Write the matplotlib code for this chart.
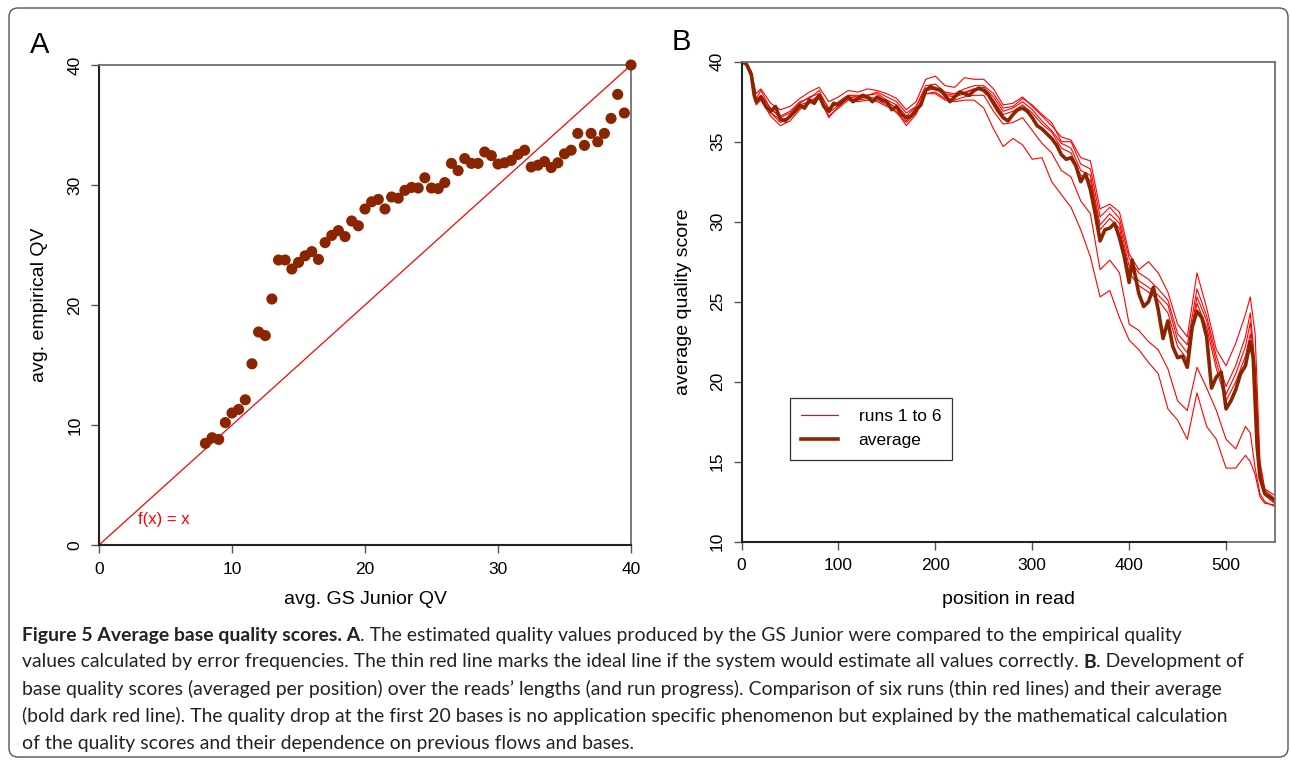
import matplotlib
matplotlib.use("Agg")
import matplotlib.pyplot as plt
from matplotlib.patches import FancyBboxPatch
from matplotlib.lines import Line2D

W, H = 1290, 761
DARK = "#8B2500"
RED = "#FF0000"
BOXGREY = "#707070"
plt.rcParams["font.family"] = ["Liberation Sans", "DejaVu Sans"]
CAP_FONT = ["Lato", "DejaVu Sans"]

# ---- panel A: GS Junior QV vs empirical QV ----
gs_qv = [8.0, 8.5, 9.0, 9.5, 10.0, 10.5, 11.0, 11.5, 12.0, 12.5, 13.0, 13.5, 14.0,
         14.5, 15.0, 15.5, 16.0, 16.5, 17.0, 17.5, 18.0, 18.5, 19.0, 19.5, 20.0, 20.5,
         21.0, 21.5, 22.0, 22.5, 23.0, 23.5, 24.0, 24.5, 25.0, 25.5, 26.0, 26.5, 27.0,
         27.5, 28.0, 28.5, 29.0, 29.5, 30.0, 30.5, 31.0, 31.5, 32.0, 32.5, 33.0, 33.5,
         34.0, 34.5, 35.0, 35.5, 36.0, 36.5, 37.0, 37.5, 38.0, 38.5, 39.0, 39.5, 40.0]
emp_qv = [8.47, 8.94, 8.8, 10.2, 11.0, 11.3, 12.1, 15.1, 17.75, 17.45, 20.5, 23.75, 23.75,
          23.0, 23.55, 24.1, 24.45, 23.8, 25.2, 25.8, 26.2, 25.7, 27.0, 26.6, 28.0, 28.6,
          28.8, 28.0, 29.0, 28.9, 29.55, 29.8, 29.75, 30.6, 29.75, 29.7, 30.2, 31.8, 31.2,
          32.2, 31.8, 31.8, 32.75, 32.45, 31.75, 31.85, 32.05, 32.55, 32.9, 31.5, 31.65, 31.95,
          31.45, 31.85, 32.6, 32.9, 34.3, 33.3, 34.3, 33.6, 34.3, 35.55, 37.55, 36.0, 40.0]
ideal = [0, 40]

# ---- panel B: quality along the read ----
pos_avg = [0, 5, 10, 13, 15, 20, 25, 30, 35, 40, 45, 50, 55, 60, 65, 70, 75, 80, 85, 90,
           95, 100, 105, 110, 115, 120, 125, 130, 135, 140, 145, 150, 155, 160, 165, 170,
           175, 180, 185, 190, 195, 200, 205, 210, 215, 220, 225, 230, 235, 240, 245, 250,
           255, 260, 265, 270, 275, 280, 285, 290, 295, 300, 305, 310, 315, 320, 325, 330,
           335, 340, 345, 350, 355, 360, 365, 370, 375, 380, 385, 390, 395, 400, 403, 405,
           410, 415, 420, 425, 430, 435, 440, 445, 450, 455, 460, 465, 470, 475, 480, 485,
           490, 495, 500, 505, 510, 515, 520, 525, 528, 532, 535, 540, 545, 550]
q_avg = [40.0, 39.85, 39.2, 37.9, 37.5, 37.8, 37.2, 36.9, 37.2, 36.4, 36.3, 36.6, 36.9, 37.3,
         37.1, 37.6, 37.4, 37.9, 37.2, 36.9, 37.4, 37.3, 37.6, 37.8, 37.5, 37.7, 37.9, 37.8,
         37.5, 37.8, 37.6, 37.5, 37.0, 37.2, 36.7, 36.5, 36.6, 37.0, 37.3, 38.2, 38.45, 38.3,
         38.25, 37.9, 37.5, 37.8, 38.1, 38.0, 37.9, 38.2, 38.35, 38.2, 37.9, 37.4, 36.9, 36.5,
         36.3, 36.7, 37.0, 37.1, 36.9, 36.5, 36.0, 35.8, 35.5, 35.2, 34.8, 34.2, 33.9, 34.0,
         33.5, 32.5, 33.0, 32.0, 30.5, 28.8, 29.5, 29.6, 29.9, 29.0, 27.8, 26.2, 27.6, 27.0,
         25.5, 24.7, 25.0, 25.9, 24.5, 22.7, 23.8, 22.2, 21.5, 21.6, 20.9, 23.4, 24.4, 24.0,
         22.8, 19.6, 20.3, 20.6, 18.3, 18.8, 19.5, 20.5, 21.0, 22.5, 21.5, 16.0, 14.0, 13.0,
         12.8, 12.6]

pos_run = [0, 5, 10, 15, 20, 30, 40, 50, 60, 70,
           80, 90, 100, 110, 120, 130, 140, 150, 160, 170,
           180, 190, 200, 210, 220, 230, 240, 250, 260, 270,
           280, 290, 300, 310, 320, 330, 340, 350, 360, 370,
           380, 390, 400, 410, 420, 430, 440, 450, 460, 470,
           480, 490, 500, 510, 520, 525, 530, 535, 540, 550]
run1 = [40.0, 39.8, 39.0, 37.3, 37.6, 36.6, 36.0, 36.3, 37.0, 37.4,
        37.7, 36.6, 37.1, 37.6, 37.5, 37.6, 37.5, 37.2, 36.9, 36.0,
        36.7, 38.0, 38.0, 37.6, 37.5, 37.6, 37.6, 37.1, 35.8, 34.7,
        35.2, 34.8, 33.9, 34.0, 32.5, 31.7, 30.9, 29.5, 27.8, 25.3,
        25.7, 24.0, 22.6, 22.0, 21.2, 20.5, 18.3, 17.6, 16.4, 19.3,
        17.2, 16.4, 14.6, 14.6, 15.4, 15.0, 14.2, 12.8, 12.4, 12.3]
run2 = [40.0, 39.9, 39.4, 38.0, 38.3, 37.4, 37.0, 37.2, 37.7, 38.1,
        38.4, 37.5, 37.8, 38.2, 38.1, 38.3, 38.2, 38.0, 37.7, 37.0,
        37.5, 38.9, 39.1, 38.5, 38.4, 39.0, 38.9, 38.9, 38.3, 37.3,
        37.4, 37.8, 37.2, 36.6, 36.0, 35.3, 35.1, 34.0, 33.8, 30.8,
        31.1, 30.6, 28.0, 27.0, 27.5, 26.8, 25.6, 23.6, 22.8, 26.8,
        24.6, 22.0, 21.0, 22.4, 24.2, 25.3, 23.0, 15.0, 13.3, 12.9]
run3 = [40.0, 39.8, 39.1, 37.4, 37.7, 36.8, 36.2, 36.5, 37.1, 37.5,
        37.8, 36.5, 37.2, 37.7, 37.6, 37.7, 37.6, 37.3, 36.8, 36.2,
        36.8, 38.0, 38.1, 37.7, 37.6, 37.8, 37.9, 37.9, 36.9, 36.1,
        36.2, 36.5, 35.7, 34.9, 34.3, 33.2, 32.8, 31.3, 30.5, 27.0,
        27.6, 26.8, 23.6, 23.2, 22.5, 22.0, 20.8, 18.8, 18.2, 20.9,
        19.6, 18.2, 16.4, 15.8, 17.2, 16.8, 14.6, 13.0, 12.5, 12.2]
run4 = [40.0, 39.85, 39.2, 37.6, 37.9, 37.1, 36.5, 36.8, 37.4, 37.8,
        38.0, 37.1, 37.4, 37.9, 37.8, 37.9, 38.0, 37.6, 37.3, 36.6,
        37.2, 38.3, 38.4, 38.0, 37.9, 38.1, 38.3, 38.4, 37.8, 36.9,
        37.1, 37.5, 37.0, 36.3, 35.7, 34.9, 34.6, 33.2, 32.9, 29.8,
        30.5, 29.9, 27.2, 26.3, 25.9, 25.4, 24.8, 22.6, 21.8, 25.3,
        23.8, 21.2, 19.2, 20.5, 22.2, 23.7, 20.6, 14.5, 13.2, 12.7]
run5 = [40.0, 39.9, 39.3, 37.7, 38.2, 37.0, 36.6, 36.9, 37.5, 37.7,
        38.2, 37.0, 37.5, 37.9, 37.9, 37.9, 38.1, 37.8, 37.5, 36.8,
        37.2, 38.5, 38.6, 38.1, 38.0, 38.3, 38.5, 38.5, 38.0, 37.1,
        37.2, 37.7, 37.3, 36.7, 36.2, 35.0, 35.0, 33.6, 33.3, 30.3,
        30.9, 30.2, 27.7, 26.8, 26.4, 25.8, 25.1, 23.0, 22.3, 25.8,
        24.1, 21.6, 19.7, 21.0, 22.8, 24.3, 21.0, 14.8, 13.0, 12.5]
run6 = [40.0, 39.85, 39.2, 37.5, 37.9, 36.8, 36.4, 36.5, 37.3, 37.5,
        37.9, 36.8, 37.3, 37.8, 37.7, 37.8, 37.7, 37.5, 37.1, 36.3,
        36.9, 38.2, 38.3, 37.9, 37.8, 38.0, 38.3, 38.2, 37.6, 36.7,
        36.9, 37.3, 36.8, 36.1, 35.6, 34.6, 34.3, 32.9, 32.6, 29.5,
        30.2, 29.6, 26.8, 26.0, 25.6, 25.1, 24.3, 22.2, 21.4, 24.9,
        23.4, 20.8, 18.8, 20.0, 21.6, 23.0, 20.0, 14.2, 12.9, 12.4]
runs = [run1, run2, run3, run4, run5, run6]

caption = [
    [("Figure 5 Average base quality scores. A", True),
     (". The estimated quality values produced by the GS Junior were compared to the empirical quality", False)],
    [("values calculated by error frequencies. The thin red line marks the ideal line if the system would estimate all values correctly. ", False),
     ("B", True), (". Development of", False)],
    [("base quality scores (averaged per position) over the reads\u2019 lengths (and run progress). Comparison of six runs (thin red lines) and their average", False)],
    [("(bold dark red line). The quality drop at the first 20 bases is no application specific phenomenon but explained by the mathematical calculation", False)],
    [("of the quality scores and their dependence on previous flows and bases.", False)],
]
# right end (px) of each caption line in the reference
caption_ends = [1233, 1263, 1215, 1233, 658]


def _rect(left, top, right, bottom):
    return [left / W, 1 - bottom / H, (right - left) / W, (bottom - top) / H]


def _style(ax, xticks, yticks, xspan):
    for s in ("top", "right"):
        ax.spines[s].set_color(BOXGREY)
        ax.spines[s].set_linewidth(1.3)
    for s in ("left", "bottom"):
        ax.spines[s].set_color("#222222")
        ax.spines[s].set_linewidth(1.5)
    ax.spines["bottom"].set_bounds(xticks[0], xticks[-1])
    # gray box part beyond the last tick
    ax.plot(xspan, [ax.get_ylim()[0]] * 2, color=BOXGREY, lw=1.3, clip_on=False, zorder=0.5)
    ax.set_xticks(xticks)
    ax.set_yticks(yticks)
    ax.tick_params(length=6, width=1.0, color="#555555", labelsize=12.5, pad=6)
    for lab in ax.get_yticklabels():
        lab.set_rotation(90)
        lab.set_va("center")


def _line_width(parts, size, renderer):
    total = 0
    for txt, bold in parts:
        t = fig.text(0, 0, txt, fontsize=size, family=CAP_FONT,
                     fontweight="bold" if bold else "normal")
        total += t.get_window_extent(renderer).width
        t.remove()
    return total


fig = plt.figure(figsize=(W / 100, H / 100), dpi=100)

# outer frame
frame = fig.add_axes([0, 0, 1, 1])
frame.set_xlim(0, W)
frame.set_ylim(H, 0)
frame.axis("off")
frame.add_patch(FancyBboxPatch((9, 8), 1279, 749, boxstyle="round,pad=0,rounding_size=9",
                               fill=False, ec="#555555", lw=1.0))

# panel A
axA = fig.add_axes(_rect(99, 65, 631, 545))
axA.set_xlim(0, 40)
axA.set_ylim(0, 40)
axA.plot(ideal, ideal, color=RED, lw=0.9)
axA.scatter(gs_qv, emp_qv, s=64, color=DARK, edgecolors="none", zorder=3, clip_on=False)
axA.text(2.9, 2.1, "f(x) = x", color=RED, fontsize=12, va="center")
_style(axA, [0, 10, 20, 30, 40], [0, 10, 20, 30, 40], [40, 40])

# panel B
axB = fig.add_axes(_rect(741.6, 61.7, 1274.5, 541.7))
axB.set_xlim(0, 550)
axB.set_ylim(10, 40)
for r in runs:
    axB.plot(pos_run, r, color=RED, lw=0.8)
axB.plot(pos_avg, q_avg, color=DARK, lw=2.6, solid_joinstyle="round")
_style(axB, [0, 100, 200, 300, 400, 500], [10, 15, 20, 25, 30, 35, 40], [500, 550])
handles = [Line2D([], [], color=RED, lw=0.8), Line2D([], [], color=DARK, lw=2.6)]
leg = axB.legend(handles, ["runs 1 to 6", "average"], loc="upper left",
                 bbox_to_anchor=((790 - 741.6) / 533, (541.7 - 398) / 480),
                 borderaxespad=0, fontsize=12.5, frameon=True, fancybox=False,
                 borderpad=0.65, handlelength=2.1, handletextpad=1.2, labelspacing=0.5)
leg.get_frame().set_edgecolor("black")
leg.get_frame().set_linewidth(0.9)

# labels (pixel positions)
fig.text(40 / W, 1 - 45 / H, "A", fontsize=21, ha="center", va="center")
fig.text(681 / W, 1 - 42 / H, "B", fontsize=21, ha="center", va="center")
fig.text(365 / W, 1 - 600 / H, "avg. GS Junior QV", fontsize=14, ha="center", va="center")
fig.text(1008 / W, 1 - 600 / H, "position in read", fontsize=14, ha="center", va="center")
fig.text(40 / W, 1 - 305 / H, "avg. empirical QV", fontsize=14, ha="center", va="center",
         rotation=90)
fig.text(684 / W, 1 - 302 / H, "average quality score", fontsize=14, ha="center",
         va="center", rotation=90)

# caption with bold runs, sized so no line runs past the reference line ends
renderer = fig.canvas.get_renderer()
cap_size = min(12 * (end - 22) / _line_width(parts, 12, renderer)
               for parts, end in zip(caption[:4], caption_ends[:4]))
for i, line in enumerate(caption):
    x = 22
    y = 635 + i * 27
    for txt, bold in line:
        t = fig.text(x / W, 1 - y / H, txt, fontsize=cap_size, family=CAP_FONT,
                     fontweight="bold" if bold else "normal", color="#222222",
                     ha="left", va="center")
        x += t.get_window_extent(renderer).width

fig.savefig("out.png", dpi=100)
